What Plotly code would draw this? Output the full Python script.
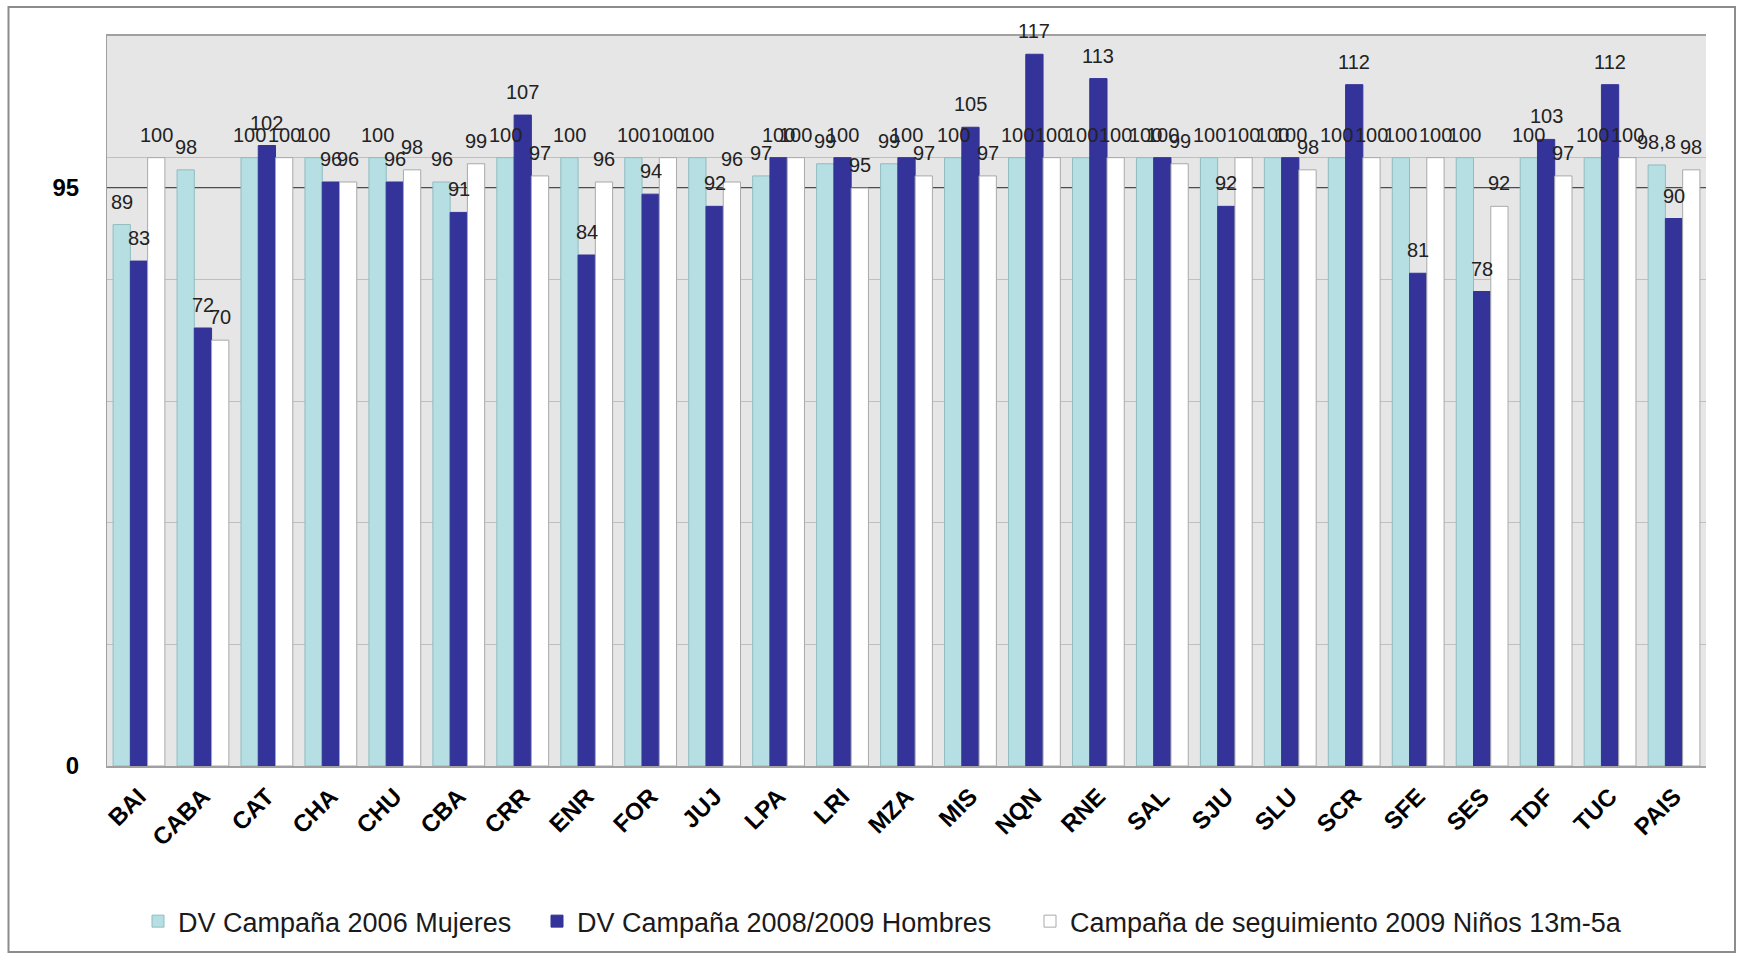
import plotly.graph_objects as go

categories = ["BAI", "CABA", "CAT", "CHA", "CHU", "CBA", "CRR", "ENR", "FOR", "JUJ",
              "LPA", "LRI", "MZA", "MIS", "NQN", "RNE", "SAL", "SJU", "SLU", "SCR",
              "SFE", "SES", "TDF", "TUC", "PAIS"]
mujeres_2006 = [89, 98, 100, 100, 100, 96, 100, 100, 100, 100,
                97, 99, 99, 100, 100, 100, 100, 100, 100, 100,
                100, 100, 100, 100, 98.8]
hombres_2008_2009 = [83, 72, 102, 96, 96, 91, 107, 84, 94, 92,
                     100, 100, 100, 105, 117, 113, 100, 92, 100, 112,
                     81, 78, 103, 112, 90]
ninos_2009 = [100, 70, 100, 96, 98, 99, 97, 96, 100, 96,
              100, 95, 97, 97, 100, 100, 99, 100, 98, 100,
              100, 92, 97, 100, 98]
series_names = ["DV Campaña 2006 Mujeres",
                "DV Campaña 2008/2009 Hombres",
                "Campaña de seguimiento 2009 Niños 13m-5a"]
threshold = 95
y_tickvals = [0, 20, 40, 60, 80, 95, 100, 120]
y_ticktext = ["0", "", "", "", "", "95", "", ""]

FONT = "Liberation Sans, Arial, sans-serif"
colors = ["#b6dfe3", "#333399", "#ffffff"]
outlines = ["#8fbcc0", "#333399", "#a9a9a9"]
series = [mujeres_2006, hombres_2008_2009, ninos_2009]
legend_ids = ["legend", "legend2", "legend3"]
legend_x = [138, 537, 1030]  # left edge of each legend entry, px

fig = go.Figure()
for name, vals, c, lc, lid in zip(series_names, series, colors, outlines, legend_ids):
    fig.add_bar(name=name, x=categories, y=vals, legend=lid,
                marker=dict(color=c, line=dict(color=lc, width=1)))

W, H = 1740, 956
ml, mr, mt, mb = 107, 34, 36, 190
bargap = 0.19
pw = W - ml - mr
ph = H - mt - mb
bw = pw / len(categories) * (1 - bargap) / 3


def fmt(v):
    return str(int(v)) if float(v).is_integer() else str(v).replace(".", ",")


annotations = []
for si, vals in enumerate(series):
    for cat, v in zip(categories, vals):
        annotations.append(dict(
            x=cat, y=v, xref="x", yref="y", text=fmt(v), showarrow=False,
            xanchor="center", yanchor="bottom", xshift=(si - 1) * bw, yshift=10,
            font=dict(family=FONT, size=20, color="#222222")))

# outer frame in paper coords
fx0 = (8.5 - ml) / pw
fx1 = (1735 - ml) / pw
fy1 = (H - mb - 7) / ph
fy0 = (H - mb - 952) / ph

legends = {}
for lid, lx in zip(legend_ids, legend_x):
    legends[lid] = dict(orientation="h", xref="container", yref="container",
                        x=lx / W, xanchor="left", y=0.036, yanchor="middle",
                        font=dict(family=FONT, size=27, color="#1a1a1a"),
                        bgcolor="rgba(0,0,0,0)")

fig.update_layout(
    width=W, height=H, autosize=False,
    margin=dict(l=ml, r=mr, t=mt, b=mb),
    paper_bgcolor="white", plot_bgcolor="#e6e6e6",
    barmode="group", bargap=bargap, bargroupgap=0,
    font=dict(family=FONT, color="#1a1a1a"),
    annotations=annotations,
    showlegend=True,
    shapes=[
        dict(type="line", xref="paper", yref="y", x0=0, x1=1, y0=threshold, y1=threshold,
             line=dict(color="#ff0000", width=2), layer="between"),
        dict(type="rect", xref="paper", yref="paper", x0=fx0, x1=fx1, y0=fy0, y1=fy1,
             line=dict(color="#8c8c8c", width=2), fillcolor="rgba(0,0,0,0)", layer="above"),
    ],
    **legends,
)
fig.update_xaxes(type="category", showgrid=False, showline=True, linecolor="#a0a0a0",
                 linewidth=2, mirror=True, ticks="", tickangle=-45,
                 tickfont=dict(family=FONT, size=24, color="black", weight="bold"),
                 ticklabelstandoff=5)
fig.update_yaxes(range=[0, 120], tickmode="array", tickvals=y_tickvals, ticktext=y_ticktext,
                 showgrid=True, gridcolor="#bfbfbf", gridwidth=1, zeroline=False,
                 showline=True, linecolor="#a0a0a0", linewidth=1, ticks="",
                 tickfont=dict(family=FONT, size=24, color="black", weight="bold"),
                 ticklabelstandoff=22)

fig.write_html("out.html")
